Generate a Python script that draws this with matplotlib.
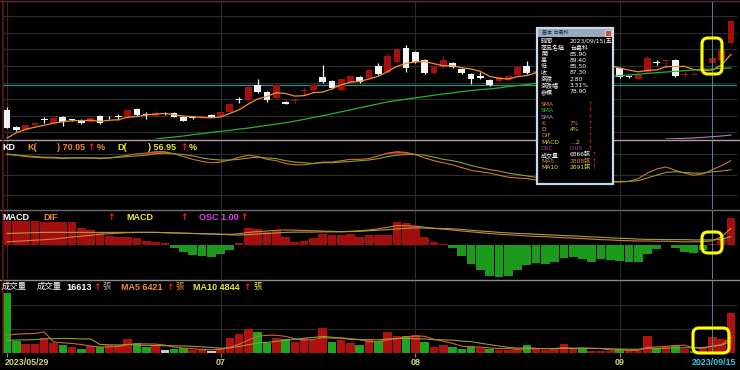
import numpy as np
import pandas as pd
import matplotlib.pyplot as plt
import matplotlib.transforms as mtrans
from matplotlib.patches import FancyBboxPatch, Rectangle

plt.rcParams['font.family'] = ['DejaVu Sans', 'Noto Sans CJK TC']
TITLE_FONT = ['Liberation Sans', 'Noto Sans CJK TC']

W, H = 740, 370

# ---- daily candles 2023/05/29 .. (79 trading days) ----
opens = [71.8, 66.6, 65.8, 67.2, 68.7, 67.9, 69.6, 68.8, 68.7, 68.1,
         70.0, 69.7, 69.6, 69.6, 72.0, 70.3, 70.0, 70.6, 70.8, 69.6,
         69.3, 69.3, 70.2, 70.0, 71.1, 74.8, 74.8, 79.3, 77.2, 75.4,
         74.2, 74.5, 77.5, 77.8, 81.7, 80.5, 77.8, 80.0, 81.7, 81.4,
         85.0, 83.2, 86.2, 90.4, 89.2, 86.8, 82.9, 84.7, 86.0, 84.1,
         82.6, 82.0, 80.8, 80.5, 80.8, 82.3, 85.0, 82.9, 83.5, 83.9,
         84.3, 85.6, 85.5, 84.9, 85.0, 85.1, 84.4, 81.8, 81.2, 83.2,
         85.9, 86.5, 86.8, 82.4, 82.3, 84.0, 85.9, 86.8, 91.9]
highs = [72.6, 66.9, 67.4, 68.0, 69.5, 69.5, 69.8, 69.1, 69.0, 69.5,
         70.2, 69.9, 70.6, 72.0, 72.3, 71.0, 71.3, 71.0, 71.0, 69.8,
         69.6, 70.0, 70.4, 71.3, 73.8, 75.7, 78.9, 81.0, 77.4, 79.5,
         74.6, 75.3, 78.7, 79.5, 85.3, 80.8, 81.2, 82.3, 82.0, 84.0,
         85.8, 88.9, 90.3, 91.3, 89.5, 87.0, 85.2, 88.0, 86.3, 84.4,
         82.8, 83.2, 81.0, 81.9, 82.2, 84.9, 86.5, 83.7, 84.2, 84.5,
         86.0, 86.0, 85.7, 85.2, 85.3, 85.6, 84.6, 82.0, 82.5, 88.0,
         86.8, 86.7, 87.0, 83.2, 83.3, 84.8, 89.4, 90.2, 98.8]
lows = [66.3, 65.5, 65.6, 67.0, 67.8, 67.6, 66.9, 68.3, 67.6, 68.0,
        67.6, 69.0, 68.8, 69.4, 70.0, 68.9, 69.6, 70.2, 69.5, 68.4,
        68.9, 69.1, 69.5, 69.8, 71.0, 73.9, 74.5, 77.0, 74.2, 75.2,
        73.4, 73.8, 76.3, 77.6, 80.0, 78.2, 77.6, 79.8, 80.0, 81.2,
        82.4, 83.0, 86.0, 83.2, 86.0, 82.6, 82.7, 84.5, 84.5, 82.7,
        79.6, 81.2, 79.1, 80.3, 80.6, 82.1, 82.7, 82.6, 83.0, 83.5,
        84.0, 84.8, 84.6, 84.6, 84.8, 84.9, 81.5, 81.5, 81.0, 83.0,
        85.3, 84.7, 81.7, 81.8, 82.2, 83.8, 85.5, 86.5, 91.5]
closes = [66.3, 65.8, 67.2, 67.8, 68.7, 69.3, 68.1, 68.7, 67.9, 69.3,
          67.8, 69.5, 69.6, 71.7, 70.2, 70.2, 70.9, 70.5, 69.6, 68.4,
          69.3, 69.9, 69.6, 71.1, 73.6, 74.8, 78.7, 77.2, 74.8, 79.3,
          73.6, 74.8, 77.8, 79.3, 80.2, 78.4, 81.0, 82.0, 80.2, 83.8,
          82.6, 88.0, 90.1, 84.4, 86.2, 82.9, 85.0, 86.8, 84.7, 82.9,
          81.1, 81.4, 79.3, 81.7, 82.0, 84.7, 82.9, 83.5, 83.9, 84.2,
          85.6, 85.8, 84.8, 85.0, 85.1, 85.3, 81.7, 81.8, 82.3, 87.4,
          85.9, 86.6, 82.0, 82.6, 82.5, 84.5, 87.3, 89.8, 98.5]
prev_closes = [58.0, 62.0, 64.5, 65.7]

# long moving averages (start before the window)
sma_green_start = 16
sma_green = [63.0, 63.3, 63.6, 63.9, 64.3, 64.6, 65.0, 65.3, 65.6, 66.0,
             66.3, 66.7, 67.1, 67.5, 67.9, 68.4, 68.9, 69.5, 70.0, 70.6,
             71.2, 71.8, 72.4, 73.0, 73.6, 74.2, 74.6, 75.0, 75.4, 75.8,
             76.2, 76.6, 76.9, 77.3, 77.6, 77.9, 78.1, 78.4, 78.8, 79.1,
             79.4, 79.8, 80.1, 80.4, 80.6, 80.9, 81.1, 81.4, 81.6, 81.9,
             82.1, 82.3, 82.5, 82.8, 83.0, 83.2, 83.4, 83.6, 83.8, 84.0,
             84.1, 84.3, 84.4]
sma_purple_start = 71
sma_purple = [63.0, 63.1, 63.2, 63.3, 63.5, 63.7, 63.9, 64.2]

# ---- volume (張) ----
vols = [25100, 5130, 3750, 3750, 6390, 4030, 3330, 2360, 1670, 2920,
        2360, 3330, 3330, 5690, 4300, 2360, 2920, 1250, 1530, 1940,
        1250, 1250, 830, 2200, 6110, 7920, 9860, 8750, 4300, 6110,
        5690, 4720, 6110, 5420, 10280, 4440, 5420, 4300, 3330, 5830,
        5000, 8750, 7080, 7080, 7360, 4580, 2360, 3330, 2360, 1530,
        2920, 2080, 1530, 1250, 1250, 1810, 3190, 1530, 1250, 1530,
        3750, 1810, 2080, 830, 830, 830, 1810, 1000, 1000, 6885,
        2080, 2640, 2920, 1810, 830, 1940, 6866, 5856, 16613]
vol_dir = ('g g r r r r g r g r g r r r g g r w g g r r w r r r r g g r '
           'g r r r r g r r g r g r r g r g r r g g g r g r r r g r r r '
           'r r g r r r g r r r g r g r g r r r r').split()
prev_vols = [3000, 3100, 2900, 3000, 3200, 2800, 3000, 3100, 2900]

# ---- KD ----
k_vals = [80, 78, 76, 75, 74, 74, 73, 74, 74, 74,
          73, 74, 76, 78, 80, 81, 83, 83, 80, 76,
          72, 69, 67, 68, 71, 75, 78, 76, 72, 70,
          66, 64, 64, 66, 68, 68, 70, 72, 72, 73,
          77, 81, 83, 82, 79, 74, 70, 67, 64, 60,
          56, 54, 52, 49, 46, 45, 44, 42, 41, 40,
          39, 39, 38, 38, 39, 39, 39, 40, 44, 52,
          58, 61, 56, 52, 49, 51, 57, 63, 70.05]
d_vals = [79, 78, 77, 76, 75, 75, 74, 74, 74, 74,
          74, 74, 75, 76, 77, 78, 80, 81, 80, 79,
          77, 74, 72, 71, 71, 72, 74, 75, 74, 73,
          70, 68, 67, 66, 67, 67, 68, 69, 70, 71,
          73, 76, 78, 79, 79, 78, 75, 72, 70, 67,
          63, 60, 57, 55, 52, 50, 48, 46, 45, 44,
          43, 42, 41, 40, 40, 40, 40, 40, 41, 45,
          49, 53, 54, 53, 52, 52, 54, 55, 56.95]

# ---- MACD ----
osc = [0.89, 0.89, 0.89, 0.89, 0.86, 0.86, 0.84, 0.84, 0.62, 0.56,
       0.43, 0.35, 0.31, 0.31, 0.25, 0.15, 0.10, 0.06, -0.10, -0.27,
       -0.37, -0.40, -0.43, -0.35, -0.19, 0.06, 0.62, 0.60, 0.49, 0.56,
       0.31, 0.10, 0.15, 0.25, 0.42, 0.37, 0.37, 0.40, 0.31, 0.37,
       0.37, 0.37, 0.84, 0.80, 0.70, 0.31, 0.10, 0.03, -0.12, -0.40,
       -0.72, -0.93, -1.14, -1.17, -1.14, -0.93, -0.74, -0.68, -0.72, -0.64,
       -0.49, -0.43, -0.52, -0.62, -0.52, -0.56, -0.59, -0.64, -0.62, -0.35,
       -0.15, 0.01, -0.12, -0.25, -0.31, -0.19, 0.05, 0.25, 1.00]
dif = [0.12, 0.14, 0.16, 0.18, 0.20, 0.22, 0.26, 0.30, 0.33, 0.36,
       0.40, 0.42, 0.44, 0.46, 0.47, 0.47, 0.47, 0.46, 0.45, 0.44,
       0.43, 0.42, 0.41, 0.40, 0.40, 0.42, 0.47, 0.50, 0.52, 0.55,
       0.56, 0.55, 0.54, 0.53, 0.52, 0.51, 0.50, 0.51, 0.53, 0.56,
       0.60, 0.66, 0.72, 0.72, 0.70, 0.66, 0.62, 0.59, 0.56, 0.52,
       0.49, 0.46, 0.43, 0.40, 0.38, 0.36, 0.34, 0.32, 0.31, 0.29,
       0.27, 0.26, 0.24, 0.22, 0.20, 0.19, 0.17, 0.16, 0.15, 0.15,
       0.14, 0.14, 0.13, 0.12, 0.12, 0.12, 0.16, 0.31, 0.62]
macd_line = [0.43, 0.44, 0.45, 0.46, 0.47, 0.47, 0.47, 0.47, 0.47, 0.47,
             0.47, 0.47, 0.47, 0.47, 0.47, 0.47, 0.47, 0.46, 0.45, 0.44,
             0.43, 0.42, 0.41, 0.40, 0.38, 0.37, 0.39, 0.41, 0.43, 0.45,
             0.47, 0.48, 0.48, 0.48, 0.49, 0.49, 0.49, 0.50, 0.51, 0.53,
             0.55, 0.57, 0.60, 0.62, 0.64, 0.63, 0.62, 0.61, 0.60, 0.58,
             0.55, 0.52, 0.50, 0.47, 0.45, 0.43, 0.42, 0.40, 0.38, 0.37,
             0.35, 0.34, 0.32, 0.30, 0.29, 0.27, 0.25, 0.24, 0.22, 0.21,
             0.21, 0.20, 0.20, 0.20, 0.19, 0.19, 0.19, 0.22, 0.31]

month_idx = [23, 44, 66]
month_lbl = ['07', '08', '09']
first_date = '2023/05/29'
cross_idx = 76
cross_date = '2023/09/15'
cross_price = 79.3

info_rows = [
    ('時間', '2023/09/15(五)', 'white', 'white', False),
    ('商品名稱', '台嘉科', 'white', 'white', False),
    ('開', '85.90', 'white', 'white', False),
    ('高', '89.40', 'white', 'white', False),
    ('低', '85.50', 'white', 'white', False),
    ('收', '87.30', 'white', 'white', False),
    ('漲跌', '2.80', 'white', 'white', False),
    ('漲跌幅', '3.31%', 'white', 'white', False),
    ('參標', '78.90', 'white', 'white', False),
    None,
    ('SMA', '', '#e08a30', '#e08a30', True),
    ('SMA', '', '#30c030', '#30c030', True),
    ('SMA', '', '#c080c0', '#c080c0', True),
    ('K', '7%', '#e09040', '#e09040', True),
    ('D', '4%', '#e0e040', '#e0e040', True),
    ('DIF', '', '#e08a30', '#e08a30', True),
    ('MACD', '…2', '#e0e040', '#e0e040', True),
    ('OSC', '0.05', '#c030c0', '#c030c0', True),
    ('成交量', '6866張', 'white', 'white', True),
    ('MA5', '2808張', '#e08a30', '#e08a30', True),
    ('MA10', '2691張', '#e0e040', '#e0e040', True),
]

RED = '#a30f0f'
WHITE = '#f4f4f4'
GRN = '#1ea51e'
ORG = '#f08a30'
YEL = '#e8e830'
ARW = '#ff2020'
GRID = '#2c2c2c'

n = len(closes)
x = np.arange(n)
o = np.array(opens); c = np.array(closes)
hi = np.array(highs); lo = np.array(lows)

fig = plt.figure(figsize=(W / 100, H / 100), dpi=100, facecolor='black')


def panel(top, bottom):
    a = fig.add_axes([3 / W, 1 - bottom / H, 734 / W, (bottom - top) / H])
    a.set_facecolor('black')
    for s in a.spines.values():
        s.set_visible(False)
    a.set_xticks([]); a.set_yticks([])
    a.set_xlim(-0.442, 78.65)
    for m in [0] + month_idx:
        a.axvline(m, color=GRID, lw=0.8, zorder=0)
    a.axvline(cross_idx, color='#3f8f9c', lw=0.7, zorder=4)
    return a


# price panel
ax = panel(1, 139)
ax.set_ylim(63.0, 104.6)
for lv in range(65, 105, 5):
    ax.axhline(lv, color=GRID, lw=0.8, zorder=0)
ax.axhline(cross_price, color='#2c8f90', lw=0.9, zorder=1)
cols = np.where(c > o, RED, WHITE)
ax.vlines(x, lo, hi, colors=cols, lw=0.9, zorder=2)
ax.bar(x, np.maximum(np.abs(c - o), 0.25), bottom=np.minimum(o, c),
       width=0.72, color=cols, lw=0, zorder=3)
ma5 = pd.Series(prev_closes + closes).rolling(5).mean().iloc[4:].values
ax.plot(x, ma5, color='#f09030', lw=0.9, zorder=4)
ax.plot(np.arange(sma_green_start, n), sma_green, color='#28b032', lw=0.9, zorder=4)
ax.plot(np.arange(sma_purple_start, n), sma_purple, color='#b878b8', lw=0.8, zorder=4)

# KD panel
axk = panel(140, 209)
axk.set_ylim(0, 100)
for lv in (20, 50, 80):
    axk.axhline(lv, color=GRID, lw=0.8, zorder=0)
kk = np.array(k_vals, float)
axk.fill_between(x, 80, kk, where=kk > 80, interpolate=True, color='#d02020', lw=0, zorder=2)
axk.plot(x, kk, color='#c8782a', lw=0.8, zorder=3)
axk.plot(x, d_vals, color='#9a9a30', lw=0.8, zorder=3)

# MACD panel
axm = panel(210, 279)
axm.set_ylim(-1.26, 1.30)
oo = np.array(osc)
axm.bar(x, oo, width=0.94, color=np.where(oo >= 0, RED, '#1c9a1c'), lw=0, zorder=2)
axm.plot(x, dif, color='#d0803a', lw=0.8, zorder=3)
axm.plot(x, macd_line, color='#a8a040', lw=0.8, zorder=3)

# volume panel
axv = panel(280, 353)
axv.set_ylim(0, 30420)
for lv in (10000, 20000):
    axv.axhline(lv, color=GRID, lw=0.8, zorder=0)
vcol = {'r': '#b01010', 'g': GRN, 'w': '#c8c8c8'}
axv.bar(x, vols, width=0.92, color=[vcol[d] for d in vol_dir], lw=0, zorder=2)
allv = pd.Series(prev_vols + vols)
vma5 = allv.rolling(5).mean().iloc[9:].values
vma10 = allv.rolling(10).mean().iloc[9:].values
axv.plot(x, vma5, color='#d06a30', lw=0.8, zorder=3)
axv.plot(x, vma10, color='#9a9a30', lw=0.8, zorder=3)

# date labels
tr = mtrans.blended_transform_factory(axv.transData, axv.transAxes)
axv.vlines([0] + month_idx, -0.06, 0, transform=tr, color='#888888', lw=0.8, clip_on=False)
dkw = dict(transform=tr, fontsize=6.4, fontweight='bold', va='center', family=TITLE_FONT)
axv.text(-0.3, -0.125, first_date, color='#d4d488', ha='left', **dkw)
for m, lb in zip(month_idx, month_lbl):
    axv.text(m, -0.125, lb, color='#d4d488', ha='center', **dkw)
axv.text(78.6, -0.125, cross_date, color='#30c8e8', ha='right', **dkw)

# overlay in pixel coordinates
ov = fig.add_axes([0, 0, 1, 1], zorder=10)
ov.set_xlim(0, W); ov.set_ylim(H, 0)
ov.axis('off')
ov.patch.set_alpha(0)

ov.plot([0, W], [1, 1], color='#5a3040', lw=1)
ov.plot([0, W], [139.5, 139.5], color='#b898b0', lw=1)
ov.plot([0, W], [209.5, 209.5], color='#6c6c6c', lw=1)
ov.plot([0, W], [279.5, 279.5], color='#8a8a8a', lw=1)
ov.plot([2.5, 2.5], [0, 353], color='#6a1414', lw=1.2)


def t(xp, yp, s, col, weight='bold', size=6.5):
    ov.text(xp, yp, s, color=col, fontsize=size, fontweight=weight,
            va='center', family=TITLE_FONT)


def up(xp, yp):
    ov.text(xp, yp, '↑', color=ARW, fontsize=6.5, fontweight='bold',
            va='center', family='DejaVu Sans')


# KD title
t(2, 147, 'KD', 'white')
t(27, 147, 'K(', ORG)
t(57, 147, f') {k_vals[-1]:.2f}', ORG)
up(87, 147)
t(97, 147, '%', ORG)
t(117, 147, 'D(', YEL)
t(148, 147, f') {d_vals[-1]:.2f}', YEL)
up(180, 147)
t(189, 147, '%', YEL)

# MACD title
t(2, 217, 'MACD', 'white')
t(43, 217, 'DIF', ORG)
up(107, 217)
t(126, 217, 'MACD', YEL)
up(180, 217)
t(199, 217, f'OSC {osc[-1]:.2f}', '#e040e0')
up(240, 217)

# volume title
t(2, 287, '成交量', 'white', weight='normal', size=6.0)
t(37, 287, '成交量', 'white', weight='normal', size=6.0)
t(66, 287, f'{vols[-1]}', 'white')
up(93, 287)
t(102, 287, '張', '#b0b0b0', weight='normal', size=6.0)
t(121, 287, f'MA5 {vma5[-1]:.0f}', ORG)
up(166, 287)
t(175, 287, '張', ORG, weight='normal', size=6.0)
t(193, 287, f'MA10 {vma10[-1]:.0f}', YEL)
up(243, 287)
t(253, 287, '張', YEL, weight='normal', size=6.0)

# highlight boxes
for bx, by, bw, bh in [(702, 38, 20, 36), (702, 232, 20, 21), (693, 328, 36, 25)]:
    ov.add_patch(FancyBboxPatch((bx, by), bw, bh,
                                boxstyle='round,pad=0,rounding_size=6',
                                ec='#ffff00', fc='none', lw=2.2, zorder=30))

# info window
ov.add_patch(Rectangle((537, 28), 76, 156, fc='black', ec='#c8d8e8', lw=1.6, zorder=20))
ov.add_patch(Rectangle((538, 29), 74, 8, fc='#9aaabc', ec='none', zorder=21))
ov.add_patch(Rectangle((605, 30), 6, 6, fc='#d04848', ec='white', lw=0.4, zorder=22))
ov.text(542, 33, '基本 台嘉科', color='#1a2a4a', fontsize=3.6, va='center', zorder=22)
ry = 41.5
for row in info_rows:
    if row is None:
        ry += 6.3
        continue
    lab, val, lc, vc, arrow = row
    ov.text(541, ry, lab, color=lc, fontsize=4.3, va='center', zorder=22)
    if val:
        ov.text(570, ry, val, color=vc, fontsize=4.3, va='center', zorder=22)
    if arrow:
        ax_x = 592 if val.endswith('張') else 588
        ov.text(ax_x, ry, '↑', color=ARW, fontsize=4.3, va='center', zorder=22)
    ry += 6.3

fig.savefig('out.png', dpi=100, facecolor='black')
